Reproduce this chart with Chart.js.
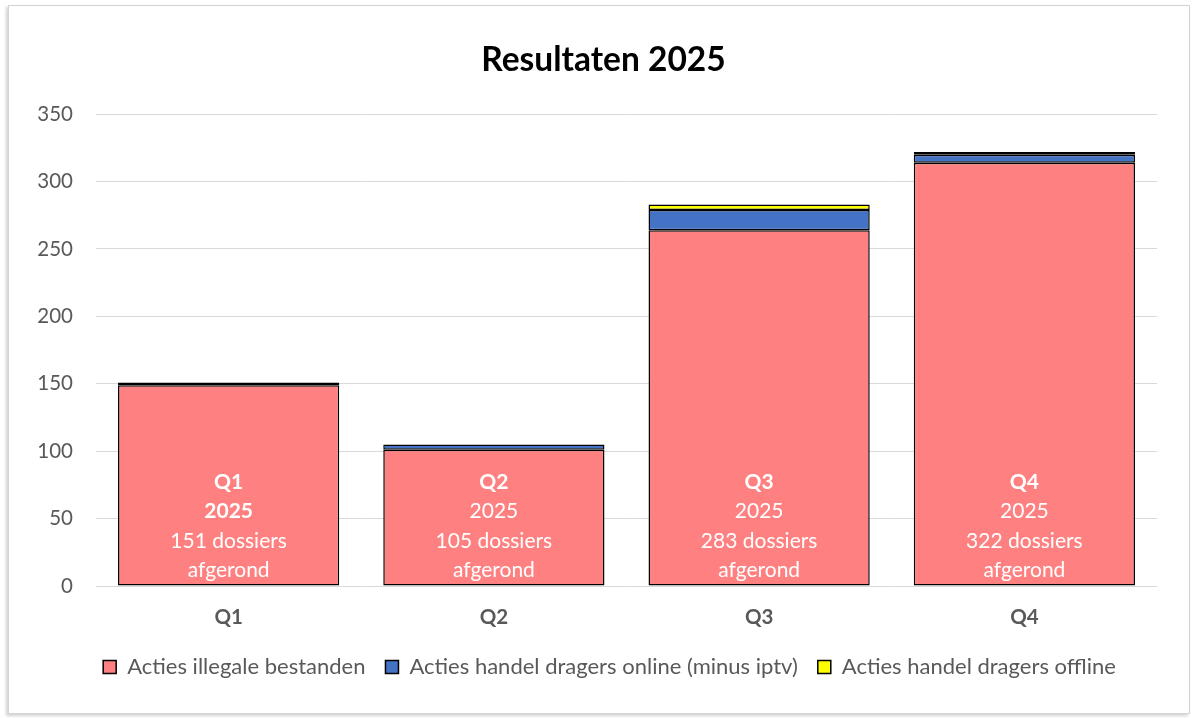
<!DOCTYPE html>
<html>
<head>
<meta charset="utf-8">
<script src="https://cdn.jsdelivr.net/npm/chart.js@4/dist/chart.umd.min.js"></script>
<style>
  html, body { margin: 0; padding: 0; background: #fff; }
  #frame {
    position: absolute; left: 8px; top: 5px; width: 1180px; height: 707px;
    border: 1px solid #d4d4d4; box-shadow: -2px 2px 3px rgba(0,0,0,0.18);
  }
  #wrap { position: absolute; left: 0; top: 0; width: 1195px; height: 718px; }
</style>
</head>
<body>
<div id="frame"></div>
<div id="wrap"><canvas id="chart"></canvas></div>
<script>
const categories = ['Q1', 'Q2', 'Q3', 'Q4'];
const illegaleBestanden = [149, 101, 264, 314];
const handelOnline = [2, 4, 15, 6];
const handelOffline = [0, 0, 4, 2];
const yTicks = [0, 50, 100, 150, 200, 250, 300, 350];

// tekst in de balken
const barLabels = [
    ['Q1', '2025', '151 dossiers', 'afgerond'],
    ['Q2', '2025', '105 dossiers', 'afgerond'],
    ['Q3', '2025', '283 dossiers', 'afgerond'],
    ['Q4', '2025', '322 dossiers', 'afgerond']
];
const boldLines = [2, 1, 1, 1];

const FONT = 'Lato, "Open Sans", sans-serif';
const GREY = '#595959';

const barTextPlugin = {
    id: 'barText',
    afterDatasetsDraw(chart) {
        const ctx = chart.ctx;
        const x = chart.scales.x;
        const y = chart.scales.y;
        const bottom = y.getPixelForValue(0);
        ctx.save();
        ctx.fillStyle = '#fff';
        ctx.textAlign = 'center';
        ctx.textBaseline = 'middle';
        barLabels.forEach((lines, i) => {
            const cx = x.getPixelForValue(i);
            lines.forEach((txt, j) => {
                ctx.font = (j < boldLines[i] ? 'bold ' : '') + '21px ' + FONT;
                ctx.fillText(txt, cx, bottom - 104 + j * 29.5);
            });
        });
        ctx.restore();
    }
};

// titel en legenda iets naar rechts, zoals in het origineel
const shiftPlugin = {
    id: 'shift',
    afterLayout(chart) {
        chart.titleBlock.left += 15;
        chart.titleBlock.right += 15;
        chart.legend.left += 21;
        chart.legend.right += 21;
    }
};

const common = {
    borderColor: '#000',
    borderWidth: 1.5,
    borderSkipped: false,
    barPercentage: 0.834,
    categoryPercentage: 1.0
};

new Chart(document.getElementById('chart'), {
    type: 'bar',
    data: {
        labels: categories,
        datasets: [
            Object.assign({ label: 'Acties illegale bestanden', data: illegaleBestanden, backgroundColor: '#ff8080' }, common),
            Object.assign({ label: 'Acties handel dragers online (minus iptv)', data: handelOnline, backgroundColor: '#4472c4' }, common),
            Object.assign({ label: 'Acties handel dragers offline', data: handelOffline.map(v => v || null), backgroundColor: '#ffff00' }, common)
        ]
    },
    options: {
        responsive: true,
        maintainAspectRatio: false,
        animation: false,
        layout: { padding: { left: 20, right: 38, top: 0, bottom: 30 } },
        plugins: {
            title: {
                display: true,
                text: 'Resultaten 2025',
                color: '#000',
                font: { family: FONT, size: 33.5, weight: 'bold' },
                padding: { top: 40, bottom: 34 }
            },
            legend: {
                position: 'bottom',
                labels: {
                    color: GREY,
                    font: { family: FONT, size: 22 },
                    boxWidth: 13,
                    boxHeight: 13,
                    padding: 20
                }
            },
            tooltip: { enabled: false }
        },
        scales: {
            x: {
                stacked: true,
                grid: { display: false },
                border: { display: false },
                ticks: { color: GREY, font: { family: FONT, size: 20.5, weight: 'bold' }, padding: 11 },
                afterFit: s => { s.height = 50; }
            },
            y: {
                stacked: true,
                min: 0,
                max: 350,
                afterBuildTicks: s => { s.ticks = yTicks.map(v => ({ value: v })); },
                grid: { color: '#d9d9d9', lineWidth: 1, drawTicks: false },
                border: { display: false },
                ticks: { color: GREY, font: { family: FONT, size: 20.5 }, padding: 23 },
                afterFit: s => { s.width = 76; }
            }
        }
    },
    plugins: [barTextPlugin, shiftPlugin]
});
</script>
</body>
</html>
